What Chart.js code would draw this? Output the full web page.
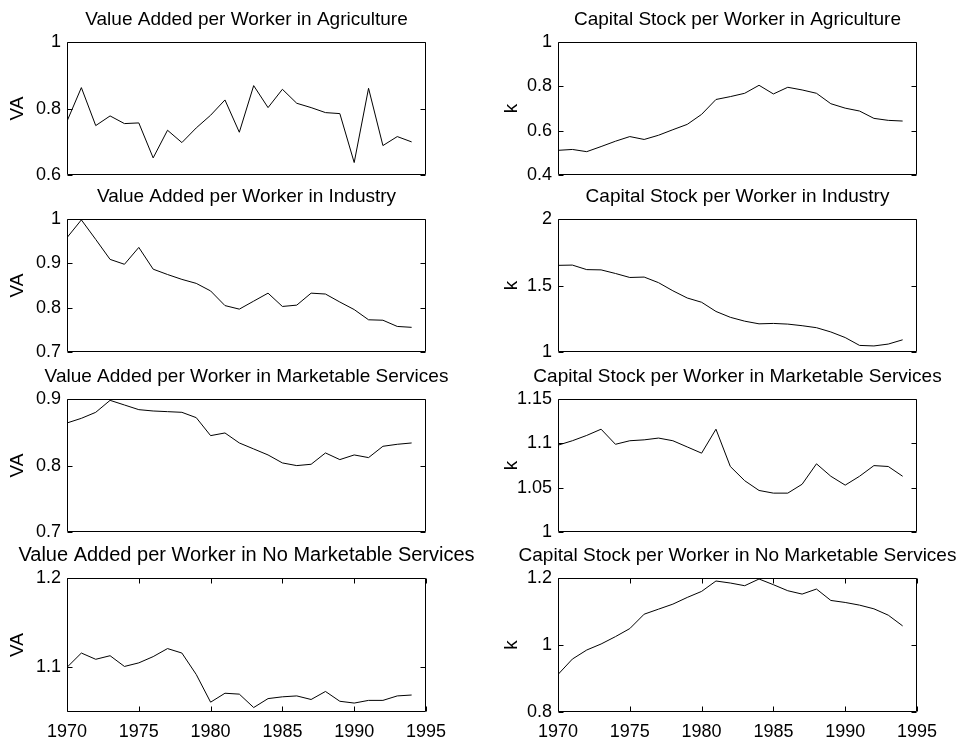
<!DOCTYPE html>
<html>
<head>
<meta charset="utf-8">
<script src="https://cdn.jsdelivr.net/npm/chart.js@4.4.1/dist/chart.umd.min.js"></script>
<style>
  body { margin: 0; background: #fff; width: 963px; height: 745px; position: relative; overflow: hidden; }
  canvas { position: absolute; }
</style>
</head>
<body>
<script>
var years = [1970, 1971, 1972, 1973, 1974, 1975, 1976, 1977, 1978, 1979, 1980, 1981, 1982,
             1983, 1984, 1985, 1986, 1987, 1988, 1989, 1990, 1991, 1992, 1993, 1994];
var xTicks = [1970, 1975, 1980, 1985, 1990, 1995];

// value added per worker (VA)
var vaAgriculture = [0.762, 0.863, 0.749, 0.778, 0.755, 0.757, 0.652, 0.735, 0.698, 0.742, 0.780, 0.826, 0.729,
                     0.869, 0.803, 0.858, 0.816, 0.803, 0.788, 0.785, 0.638, 0.861, 0.689, 0.716, 0.700];
var vaIndustry = [0.958, 0.998, 0.954, 0.909, 0.898, 0.936, 0.887, 0.875, 0.864, 0.855, 0.838, 0.805, 0.797,
                  0.815, 0.833, 0.803, 0.806, 0.833, 0.831, 0.813, 0.796, 0.773, 0.772, 0.758, 0.756];
var vaMarketable = [0.864, 0.871, 0.880, 0.898, 0.891, 0.884, 0.882, 0.881, 0.880, 0.872, 0.845, 0.849, 0.834,
                    0.825, 0.816, 0.804, 0.800, 0.802, 0.819, 0.809, 0.816, 0.812, 0.829, 0.832, 0.834];
var vaNoMarketable = [1.100, 1.116, 1.109, 1.113, 1.101, 1.105, 1.112, 1.121, 1.116, 1.092, 1.061, 1.071, 1.070,
                      1.055, 1.065, 1.067, 1.068, 1.064, 1.073, 1.062, 1.060, 1.063, 1.063, 1.068, 1.069];

// capital stock per worker (k)
var kAgriculture = [0.512, 0.516, 0.506, 0.529, 0.553, 0.574, 0.561, 0.580, 0.605, 0.629, 0.674, 0.741, 0.754,
                    0.769, 0.805, 0.766, 0.796, 0.784, 0.769, 0.722, 0.702, 0.689, 0.656, 0.647, 0.644];
var kIndustry = [1.652, 1.654, 1.620, 1.618, 1.591, 1.561, 1.564, 1.522, 1.461, 1.407, 1.375, 1.306, 1.262,
                 1.233, 1.213, 1.216, 1.211, 1.199, 1.184, 1.152, 1.110, 1.051, 1.047, 1.061, 1.093];
var kMarketable = [1.098, 1.103, 1.109, 1.116, 1.099, 1.103, 1.104, 1.106, 1.103, 1.096, 1.089, 1.116, 1.074,
                   1.058, 1.047, 1.044, 1.044, 1.054, 1.077, 1.063, 1.053, 1.063, 1.075, 1.074, 1.063];
var kNoMarketable = [0.912, 0.958, 0.985, 1.003, 1.025, 1.049, 1.092, 1.107, 1.122, 1.142, 1.160, 1.191, 1.185,
                     1.177, 1.197, 1.180, 1.162, 1.152, 1.167, 1.133, 1.127, 1.119, 1.108, 1.089, 1.057];

var titles = [
  ['Value Added per Worker in Agriculture', 'Capital Stock per Worker in Agriculture'],
  ['Value Added per Worker in Industry', 'Capital Stock per Worker in Industry'],
  ['Value Added per Worker in Marketable Services', 'Capital Stock per Worker in Marketable Services'],
  ['Value Added per Worker in No Marketable Services', 'Capital Stock per Worker in No Marketable Services']
];
var axisLabels = ['VA', 'k'];
var series = [
  [vaAgriculture, kAgriculture],
  [vaIndustry, kIndustry],
  [vaMarketable, kMarketable],
  [vaNoMarketable, kNoMarketable]
];
var yRanges = [
  [[0.6, 1], [0.4, 1]],
  [[0.7, 1], [1, 2]],
  [[0.7, 0.9], [1, 1.15]],
  [[1.05, 1.2], [0.8, 1.2]]
];
var yTicks = [
  [[0.6, 0.8, 1], [0.4, 0.6, 0.8, 1]],
  [[0.7, 0.8, 0.9, 1], [1, 1.5, 2]],
  [[0.7, 0.8, 0.9], [1, 1.05, 1.1, 1.15]],
  [[1.1, 1.2], [0.8, 1, 1.2]]
];

Chart.defaults.font.family = '"Liberation Sans", Arial, Helvetica, sans-serif';
Chart.defaults.color = '#000';

// matlab style box with inward tick marks
var boxPlugin = {
  id: 'box',
  afterDatasetsDraw: function(chart, args, opts) {
    var a = chart.chartArea, ctx = chart.ctx;
    var l = Math.round(a.left) + 0.5, r = Math.round(a.right) - 0.5;
    var t = Math.round(a.top) + 0.5, b = Math.round(a.bottom) - 0.5;
    ctx.save();
    ctx.strokeStyle = '#000';
    ctx.lineWidth = 1;
    ctx.beginPath();
    ctx.rect(l, t, r - l, b - t);
    chart.scales.y.ticks.forEach(function(tk) {
      var y = Math.round(chart.scales.y.getPixelForValue(tk.value)) + 0.5;
      ctx.moveTo(l, y); ctx.lineTo(l + 5, y);
      ctx.moveTo(r, y); ctx.lineTo(r - 5, y);
    });
    if (opts.xTicks) {
      chart.scales.x.ticks.forEach(function(tk) {
        var x = Math.round(chart.scales.x.getPixelForValue(tk.value)) + 0.5;
        ctx.moveTo(x, b); ctx.lineTo(x, b - 5);
        ctx.moveTo(x, t); ctx.lineTo(x, t + 5);
      });
    }
    ctx.stroke();
    ctx.restore();
  }
};

var rowTops = [42, 219, 399, 578];
var plotHeight = 134;
var plotWidth = 359;
var colLefts = [0, 480];
var axisWidths = [67, 78];

function makePanel(row, col) {
  var bottomRow = row === 3;
  var canvas = document.createElement('canvas');
  var bottomMargin = bottomRow ? 745 - rowTops[row] - plotHeight : 16;
  var side = axisWidths[col];
  // symmetric margins so the full width title centres over the plot box
  canvas.width = side * 2 + plotWidth;
  canvas.height = 42 + plotHeight + bottomMargin;
  canvas.style.left = colLefts[col] + 'px';
  canvas.style.top = (rowTops[row] - 42) + 'px';
  document.body.appendChild(canvas);

  var values = series[row][col];
  var ticks = yTicks[row][col];
  // the last left title is drawn a little larger in the original
  var titleSize = (row === 3 && col === 0) ? 20 : 19;

  new Chart(canvas.getContext('2d'), {
    type: 'line',
    data: {
      datasets: [{
        data: years.map(function(yr, i) { return { x: yr, y: values[i] }; }),
        borderColor: '#000',
        borderWidth: 1,
        pointRadius: 0,
        tension: 0,
        fill: false
      }]
    },
    options: {
      responsive: false,
      animation: false,
      events: [],
      plugins: {
        legend: { display: false },
        tooltip: { enabled: false },
        title: {
          display: true,
          text: titles[row][col],
          color: '#000',
          font: { size: titleSize, weight: 'normal' },
          padding: { top: 8 - (titleSize - 19) * 0.6, bottom: 42 - 8 - 19 * 1.2 - (titleSize - 19) * 0.6 }
        },
        box: { xTicks: bottomRow }
      },
      scales: {
        x: {
          type: 'linear',
          min: 1970,
          max: 1995,
          display: bottomRow,
          grid: { display: false, drawTicks: false },
          border: { display: false },
          ticks: {
            color: '#000',
            font: { size: 18 },
            padding: 9,
            maxRotation: 0,
            autoSkip: false,
            callback: function(v) { return String(v); }
          },
          afterBuildTicks: function(s) { s.ticks = xTicks.map(function(v) { return { value: v }; }); },
          afterFit: function(s) { s.height = bottomMargin; }
        },
        y: {
          min: yRanges[row][col][0],
          max: yRanges[row][col][1],
          grid: { display: false, drawTicks: false },
          border: { display: false },
          title: {
            display: true,
            text: axisLabels[col],
            color: '#000',
            font: { size: 19 },
            padding: { top: col === 0 ? 6.3 : 20.3, bottom: 0 }
          },
          ticks: {
            color: '#000',
            font: { size: 18 },
            padding: 6,
            callback: function(v) { return String(parseFloat(Number(v).toFixed(2))); }
          },
          afterBuildTicks: function(s) { s.ticks = ticks.map(function(v) { return { value: v }; }); },
          afterFit: function(s) { s.width = side; }
        },
        spacer: {
          type: 'linear',
          axis: 'y',
          position: 'right',
          grid: { display: false, drawTicks: false },
          border: { display: false },
          ticks: { display: false },
          afterFit: function(s) { s.width = side; }
        }
      }
    },
    plugins: [boxPlugin]
  });
}

for (var r = 0; r < 4; r++) {
  makePanel(r, 0);
  makePanel(r, 1);
}
</script>
</body>
</html>
